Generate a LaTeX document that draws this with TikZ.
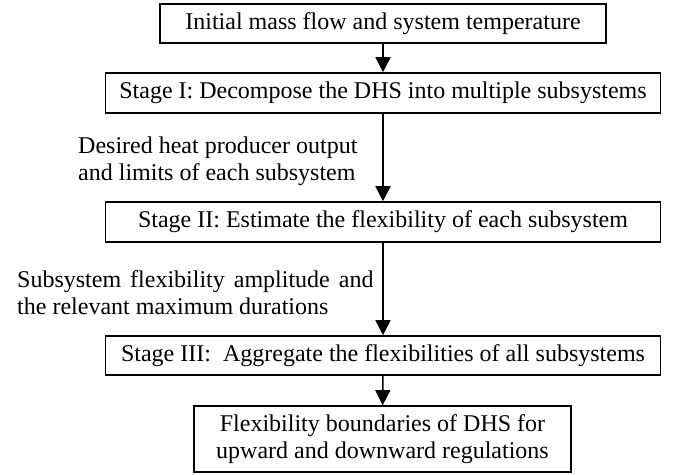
\documentclass[tikz,border=0pt]{standalone}
\usepackage{fontspec}
\setmainfont{Liberation Serif}
\usetikzlibrary{arrows.meta}

\tikzset{
  stagebox/.style={draw, line width=1.6pt, minimum height=39pt, inner sep=2pt,
    font=\fontsize{24}{27}\selectfont},
  note/.style={align=left, inner sep=0pt, font=\fontsize{24}{27}\selectfont},
  flow/.style={line width=1.6pt, -{Triangle[length=15pt,width=15pt]}}
}

\begin{document}
\begin{tikzpicture}[x=1pt, y=-1pt]
\useasboundingbox (0,0) rectangle (677,474);
\node[stagebox, minimum width=446pt] (init) at (383,23.5) {Initial mass flow and system temperature};
\node[stagebox, minimum width=555pt, minimum height=40pt] (s1) at (383,93) {Stage I: Decompose the DHS into multiple subsystems};
\node[stagebox, minimum width=555pt, minimum height=40pt] (s2) at (383,222) {Stage II: Estimate the flexibility of each subsystem};
\node[stagebox, minimum width=555pt] (s3) at (383,355.5) {Stage III:\ \ Aggregate the flexibilities of all subsystems};
\node[stagebox, minimum width=377pt, minimum height=66pt, align=center] (bounds) at (382.5,439) {Flexibility boundaries of DHS for\\upward and downward regulations};
\node[note, anchor=west] (l1) at (78,161) {Desired heat producer output\\and limits of each subsystem};
\node[note, anchor=west] (l2) at (17,293) {Subsystem\hspace{9pt}flexibility\hspace{9pt}amplitude\hspace{9pt}and\\the relevant maximum durations};
\draw[flow] (init) -- (s1);
\draw[flow] (s1) -- (s2);
\draw[flow] (s2) -- (s3);
\draw[flow] (s3) -- (bounds);
\end{tikzpicture}
\end{document}
